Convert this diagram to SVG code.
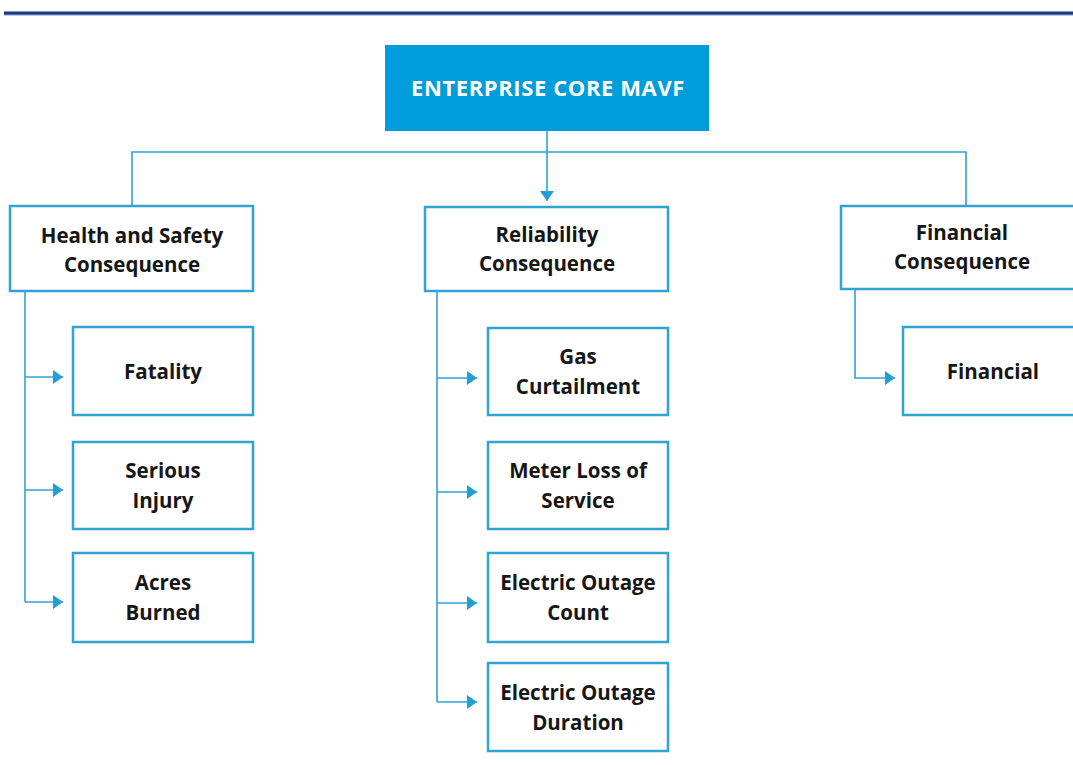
<svg xmlns="http://www.w3.org/2000/svg" width="1073" height="765" viewBox="0 0 1073 765">
<style>
.box{fill:#ffffff;stroke:#2fa3d3;stroke-width:2.5}
.lbl{font-family:"Open Sans","Liberation Sans",sans-serif;font-weight:700;font-size:20.5px;fill:#161616;text-anchor:middle}
.title{font-family:"Open Sans","Liberation Sans",sans-serif;font-weight:700;font-size:22px;fill:#ffffff;text-anchor:middle;letter-spacing:0.6px}
.con{fill:none;stroke:#2fa3d3;stroke-width:1.6}
</style>
<defs>
<marker id="ah" markerUnits="userSpaceOnUse" markerWidth="12" markerHeight="16" refX="10" refY="7" orient="auto">
<path d="M0,0 L10,7 L0,14 Z" fill="#1f9fd8"/>
</marker>
</defs>
<rect width="1073" height="765" fill="#ffffff"/>
<rect x="4" y="11" width="1069" height="4.5" fill="#7b9ad6"/>
<rect x="4" y="12" width="1069" height="2.5" fill="#1f3b7a"/>

<g id="connectors">
<path class="con" d="M547,131 V201" marker-end="url(#ah)"/>
<path class="con" d="M132,206 V152 H966 V206"/>
<path class="con" d="M25,291 V602"/>
<path class="con" d="M25,377 H63" marker-end="url(#ah)"/>
<path class="con" d="M25,490 H63" marker-end="url(#ah)"/>
<path class="con" d="M25,602 H63" marker-end="url(#ah)"/>
<path class="con" d="M437,291 V702"/>
<path class="con" d="M437,378 H477" marker-end="url(#ah)"/>
<path class="con" d="M437,492 H477" marker-end="url(#ah)"/>
<path class="con" d="M437,603 H477" marker-end="url(#ah)"/>
<path class="con" d="M437,702 H477" marker-end="url(#ah)"/>
<path class="con" d="M855,289 V378 H895" marker-end="url(#ah)"/>
</g>

<g id="root">
<rect x="385" y="45" width="324" height="86" fill="#009ddc"/>
<text class="title" x="548" y="96">ENTERPRISE CORE MAVF</text>
</g>

<g id="health">
<rect class="box" x="10" y="206" width="243" height="85"/>
<text class="lbl" x="132" y="243">Health and Safety</text>
<text class="lbl" x="132" y="272">Consequence</text>
</g>
<g id="reliability">
<rect class="box" x="425" y="207" width="243" height="84"/>
<text class="lbl" x="547" y="242">Reliability</text>
<text class="lbl" x="547" y="271">Consequence</text>
</g>
<g id="financial">
<rect class="box" x="841" y="206" width="243" height="83"/>
<text class="lbl" x="962" y="240">Financial</text>
<text class="lbl" x="962" y="269">Consequence</text>
</g>

<g id="fatality">
<rect class="box" x="73" y="327" width="180" height="88"/>
<text class="lbl" x="163" y="379">Fatality</text>
</g>
<g id="serious-injury">
<rect class="box" x="73" y="442" width="180" height="87"/>
<text class="lbl" x="163" y="478">Serious</text>
<text class="lbl" x="163" y="508">Injury</text>
</g>
<g id="acres-burned">
<rect class="box" x="73" y="553" width="180" height="89"/>
<text class="lbl" x="163" y="590">Acres</text>
<text class="lbl" x="163" y="620">Burned</text>
</g>

<g id="gas-curtailment">
<rect class="box" x="488" y="328" width="180" height="87"/>
<text class="lbl" x="578" y="364">Gas</text>
<text class="lbl" x="578" y="394">Curtailment</text>
</g>
<g id="meter-loss">
<rect class="box" x="488" y="442" width="180" height="87"/>
<text class="lbl" x="578" y="478">Meter Loss of</text>
<text class="lbl" x="578" y="508">Service</text>
</g>
<g id="outage-count">
<rect class="box" x="488" y="553" width="180" height="89"/>
<text class="lbl" x="578" y="590">Electric Outage</text>
<text class="lbl" x="578" y="620">Count</text>
</g>
<g id="outage-duration">
<rect class="box" x="488" y="663" width="180" height="88"/>
<text class="lbl" x="578" y="700">Electric Outage</text>
<text class="lbl" x="578" y="730">Duration</text>
</g>

<g id="financial-child">
<rect class="box" x="903" y="327" width="181" height="88"/>
<text class="lbl" x="993" y="379">Financial</text>
</g>
</svg>
